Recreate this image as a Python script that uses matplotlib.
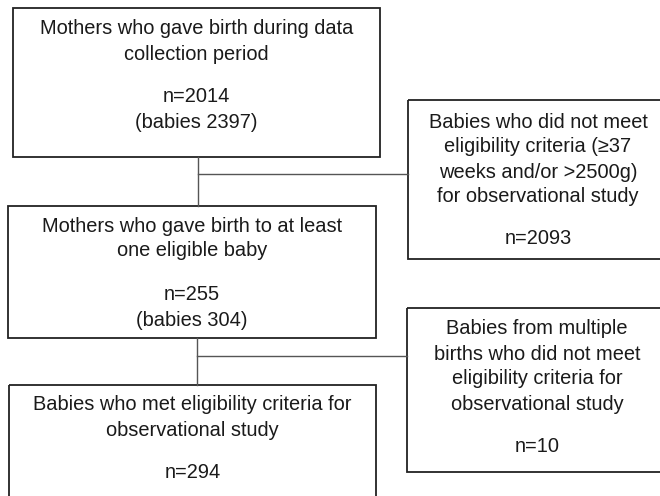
import matplotlib.pyplot as plt
from matplotlib.patches import Rectangle

plt.rcParams['font.family'] = ['Liberation Sans', 'DejaVu Sans']

# box texts (description lines, then count lines)
desc_texts = [
    ["Mothers who gave birth during data", "collection period"],
    ["Babies who did not meet", "eligibility criteria (\u226537", "weeks and/or >2500g)", "for observational study"],
    ["Mothers who gave birth to at least", "one eligible baby"],
    ["Babies from multiple", "births who did not meet", "eligibility criteria for", "observational study"],
    ["Babies who met eligibility criteria for", "observational study"],
]
n_values = [2014, 2093, 255, 10, 294]
babies = [2397, None, 304, None, None]

# layout in pixels: x0, y0, x1, y1 (y grows downward), first desc line y, first count line y
boxes = [
    (13, 8, 380, 157, 29, 96),
    (408, 100, 668, 259, 122, 238),
    (8, 206, 376, 338, 226, 294),
    (407, 308, 667, 472, 329, 447),
    (9, 385, 376, 520, 405, 473),
]

fig = plt.figure(figsize=(6.6, 4.96), dpi=100)
ax = fig.add_axes([0, 0, 1, 1])
ax.set_xlim(0, 660)
ax.set_ylim(496, 0)
ax.axis('off')

txt_color = '#1a1a1a'
fs = 14.4

for i, (x0, y0, x1, y1, dy, ny) in enumerate(boxes):
    ax.add_patch(Rectangle((x0, y0), x1 - x0, y1 - y0, fill=False,
                           edgecolor='#222222', linewidth=1.3))
    cx = (x0 + x1) / 2
    for k, line in enumerate(desc_texts[i]):
        ax.text(cx, dy + 25 * k, line, ha='center', va='center',
                fontsize=fs, color=txt_color)
    count_lines = ["n=%d" % n_values[i]]
    if babies[i] is not None:
        count_lines.append("(babies %d)" % babies[i])
    for k, line in enumerate(count_lines):
        ax.text(cx, ny + 26 * k, line, ha='center', va='center',
                fontsize=fs, color=txt_color)

# connectors
line_kw = dict(color='#555555', linewidth=1.0)
ax.plot([198, 198], [157, 206], **line_kw)
ax.plot([198, 408], [174, 174], **line_kw)
ax.plot([197, 197], [338, 385], **line_kw)
ax.plot([197, 407], [356, 356], **line_kw)

fig.savefig('out.png', dpi=100)
